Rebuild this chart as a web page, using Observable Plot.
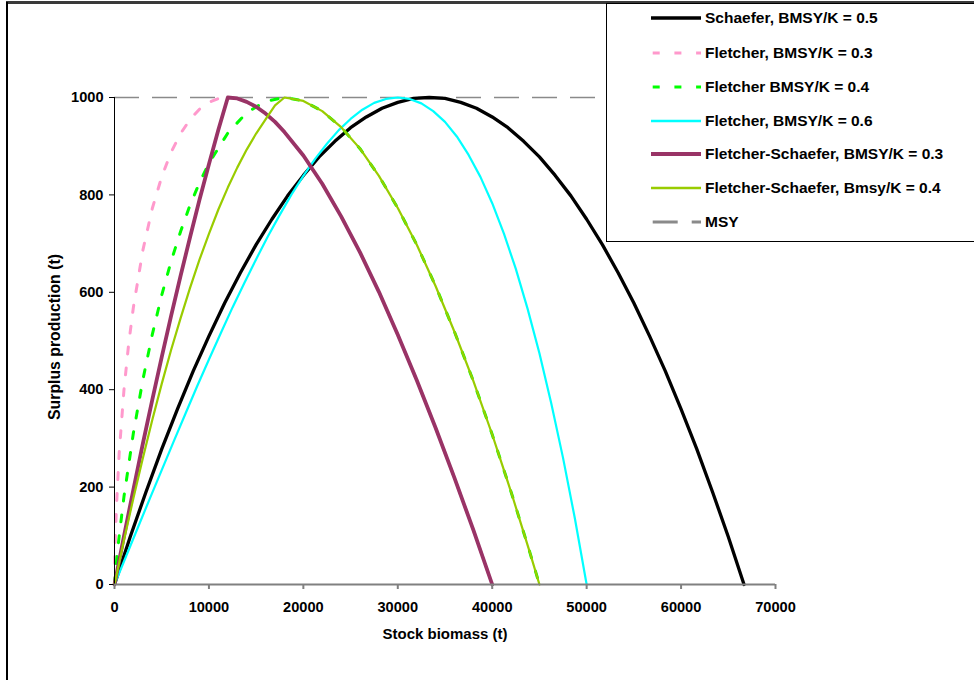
<!DOCTYPE html>
<html><head><meta charset="utf-8">
<script src="https://cdn.jsdelivr.net/npm/d3@7"></script>
<script src="https://cdn.jsdelivr.net/npm/@observablehq/plot@0.6"></script>
<style>
body{margin:0;background:#fff;}
#wrap{position:relative;width:974px;height:680px;overflow:hidden;background:#fff;font-family:"Liberation Sans",Arial,sans-serif;font-weight:bold;color:#000;}
#chart{position:absolute;left:0;top:0;}
.btop{position:absolute;left:6px;top:1px;width:968px;height:3px;background:#3a3a3a;}
.bleft{position:absolute;left:6px;top:2px;width:2px;height:678px;background:#000;}
#legend{position:absolute;left:606px;top:3px;width:420px;height:237px;border:1px solid #000;background:#fff;}
.row{position:absolute;left:0;height:20px;width:400px;}
.row svg{position:absolute;left:44px;top:5px;}
.row span{position:absolute;left:98px;top:0;line-height:20px;font-size:15.5px;white-space:nowrap;}
.ytitle{position:absolute;left:55px;top:337px;transform:translate(-50%,-50%) rotate(-90deg);font-size:15.8px;white-space:nowrap;}
.xtitle{position:absolute;left:445px;top:633px;transform:translate(-50%,-50%);font-size:15px;white-space:nowrap;}
</style></head>
<body>
<div id="wrap">
  <div id="chart"></div>
  <div class="btop"></div>
  <div class="bleft"></div>
  <div class="ytitle">Surplus production (t)</div>
  <div class="xtitle">Stock biomass (t)</div>
  <div id="legend"></div>
</div>
<script>
// ---- data ----
const seriesNames = [
  "Schaefer, BMSY/K = 0.5",
  "Fletcher, BMSY/K = 0.3",
  "Fletcher BMSY/K = 0.4",
  "Fletcher, BMSY/K = 0.6",
  "Fletcher-Schaefer, BMSY/K = 0.3",
  "Fletcher-Schaefer, Bmsy/K = 0.4",
  "MSY"
];
const msyValue = 1000;
const xTicks = [0, 10000, 20000, 30000, 40000, 50000, 60000, 70000];
const yTicks = [0, 200, 400, 600, 800, 1000];

const schaeferB = [0,1667,3333,5000,6667,8333,10000,11667,13333,15000,16667,18333,20000,21667,23333,25000,26667,28333,30000,31667,33333,35000,36667,38333,40000,41667,43333,45000,46667,48333,50000,51667,53333,55000,56667,58333,60000,61667,63333,65000,66667];
const schaeferP = [0,98,190,278,360,438,510,578,640,698,750,798,840,878,910,938,960,978,990,998,1000,998,990,978,960,938,910,878,840,798,750,698,640,578,510,438,360,278,190,98,0];

const fletcher03B = [0,50,100,200,500,1000,1500,2000,3000,4000,5000,6000,7000,8000,9000,10000,11000,12000,13000,14000,15000,16000,17000,18000,20000,22000,24000,26000,28000,30000,32000,34000,36000,38000,40000];
const fletcher03P = [0,66,102,157,271,399,494,569,686,772,837,888,926,955,976,990,998,1000,998,991,981,967,950,929,881,823,756,682,601,513,420,322,219,112,0];

const fletcher04B = [0,250,500,1000,2000,3000,4000,5000,6000,7000,8000,9000,10000,12000,14000,16000,18000,20000,22000,24000,26000,28000,30000,32000,34000,36000,38000,40000,42000,44000,45000];
const fletcher04P = [0,55,100,180,311,420,513,594,664,725,779,825,865,927,969,992,1000,993,972,939,895,839,773,698,613,519,418,308,190,65,0];

const fletcher06B = [0,1250,2500,3750,5000,6250,7500,8750,10000,11250,12500,13750,15000,16250,17500,18750,20000,21250,22500,23750,25000,26250,27500,28750,30000,31250,32500,33750,35000,36250,37500,38750,40000,41250,42500,43750,45000,46250,47500,48750,50000];
const fletcher06P = [0,59,118,177,235,293,350,407,462,516,569,619,668,715,759,801,839,874,905,933,956,975,989,997,1000,997,988,972,950,920,882,837,783,720,648,566,475,372,260,136,0];

const fs03B = [0,1000,2000,3000,4000,5000,6000,7000,8000,9000,10000,11000,12000,13000,14000,15000,16000,17000,18000,20000,22000,24000,26000,28000,30000,32000,34000,36000,38000,40000];
const fs03P = [0,99,195,289,379,467,552,634,713,790,863,934,1000,998,991,981,967,950,929,881,823,756,682,601,513,420,322,219,112,0];

const fs04B = [0,1000,2000,3000,4000,5000,6000,7000,8000,9000,10000,11000,12000,13000,14000,15000,16000,17000,18000,20000,22000,24000,26000,28000,30000,32000,34000,36000,38000,40000,42000,44000,45000];
const fs04P = [0,91,177,259,338,412,482,547,609,667,720,770,815,856,893,926,955,984,1000,993,972,939,895,839,773,698,613,519,418,308,190,65,0];

// ---- styles ----
const seriesStyles = [
  {stroke:"#000000", width:3.3, dash:null, lw:3.6},
  {stroke:"#ff99cc", width:3, dash:"7,14", lw:3.2},
  {stroke:"#00ff00", width:3, dash:"7,14", lw:3.2},
  {stroke:"#00ffff", width:2.2, dash:null, lw:2.6},
  {stroke:"#993366", width:3.8, dash:null, lw:4},
  {stroke:"#99cc00", width:2.2, dash:null, lw:2.6},
  {stroke:"#8a8a8a", width:1.4, dash:"25,13", lw:3}
];

const rows = (B, P) => B.map((b, i) => ({b, p: P[i]}));
const seriesData = [
  rows(schaeferB, schaeferP),
  rows(fletcher03B, fletcher03P),
  rows(fletcher04B, fletcher04P),
  rows(fletcher06B, fletcher06P),
  rows(fs03B, fs03P),
  rows(fs04B, fs04P)
];

const lineMarks = seriesData.map((d, i) => Plot.line(d, {
  x: "b", y: "p",
  stroke: seriesStyles[i].stroke,
  strokeWidth: seriesStyles[i].width,
  strokeDasharray: seriesStyles[i].dash || undefined,
  strokeLinejoin: "round"
}));

const chart = Plot.plot({
  width: 974, height: 680,
  marginLeft: 114, marginRight: 199, marginTop: 97, marginBottom: 96,
  x: {domain: [0, 70000]},
  y: {domain: [0, 1000]},
  style: {fontFamily: '"Liberation Sans", Arial, sans-serif', fontSize: "14.6px", fontWeight: "bold", background: "transparent", color: "black", overflow: "visible"},
  marks: [
    Plot.ruleY([msyValue], {stroke: seriesStyles[6].stroke, strokeWidth: seriesStyles[6].width, strokeDasharray: seriesStyles[6].dash}),
    ...lineMarks,
    Plot.ruleX([0], {stroke: "black", strokeWidth: 1}),
    Plot.ruleY([0], {stroke: "#808080", strokeWidth: 2}),
    Plot.axisY({ticks: yTicks, tickSize: 5, tickPadding: 6, tickFormat: d => String(d), label: null, stroke: "black", fill: "black"}),
    Plot.axisX({ticks: xTicks, tickSize: 5, tickPadding: 12, tickFormat: d => String(d), label: null, stroke: "#808080", strokeWidth: 2, fill: "black"})
  ]
});
document.getElementById("chart").appendChild(chart);

// ---- legend ----
const legend = document.getElementById("legend");
const rowCenters = [18.3, 53.3, 87.3, 120.7, 154, 188.3, 221.7];
seriesNames.forEach((name, i) => {
  const st = seriesStyles[i];
  const row = document.createElement("div");
  row.className = "row";
  row.style.top = (rowCenters[i] - 4 - 10) + "px";
  const dash = st.dash ? (i === 6 ? "25,14" : "7,14.7") : null;
  row.innerHTML = `<svg width="52" height="10"><line x1="${st.dash ? 1.7 : 0}" x2="50" y1="5" y2="5" stroke="${st.stroke}" stroke-width="${st.lw}" ${dash ? `stroke-dasharray="${dash}"` : ""}/></svg><span>${name}</span>`;
  legend.appendChild(row);
});
</script>
</body></html>
